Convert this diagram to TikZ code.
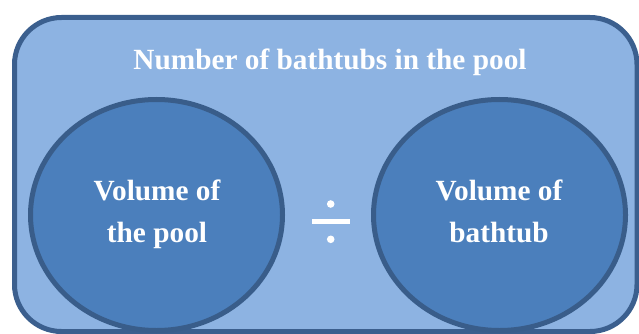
\documentclass[tikz,border=0pt]{standalone}
\usepackage{fontspec}
\setmainfont{Liberation Serif}
\usetikzlibrary{shapes.geometric}
\definecolor{outerfill}{HTML}{8DB3E2}
\definecolor{outerline}{HTML}{3B5F8E}
\definecolor{ellfill}{HTML}{4B7FBC}
\definecolor{ellline}{HTML}{395D8A}
\tikzset{
  panel/.style={draw=outerline, fill=outerfill, line width=5pt, rounded corners=47pt},
  bubble/.style={ellipse, draw=ellline, fill=ellfill, line width=5pt, inner sep=0pt,
    minimum width=252pt, minimum height=231pt},
  wtext/.style={text=white, font=\bfseries\fontsize{29.3}{35}\selectfont, inner sep=0pt, anchor=base},
  divmark/.style={fill=white, draw=none}
}
\begin{document}
\begin{tikzpicture}[x=1pt,y=-1pt]
\useasboundingbox (0,0) rectangle (639,334);
\draw[panel] (14.5,17.5) rectangle (637,331.5);
\node[wtext] (title) at (330,70) {Number of bathtubs in the pool};
\node[bubble] (left) at (156.5,215) {};
\node[bubble] (right) at (499.5,215) {};
\node[wtext] (l1) at (157,200) {Volume of};
\node[wtext] (l2) at (157,242.5) {the pool};
\node[wtext] (r1) at (499,200) {Volume of};
\node[wtext] (r2) at (499,242.5) {bathtub};
\fill[divmark] (312,219.3) rectangle (349.5,224);
\fill[divmark] (330.7,204) circle (3.8);
\fill[divmark] (330.7,239.3) circle (3.8);
\end{tikzpicture}
\end{document}
